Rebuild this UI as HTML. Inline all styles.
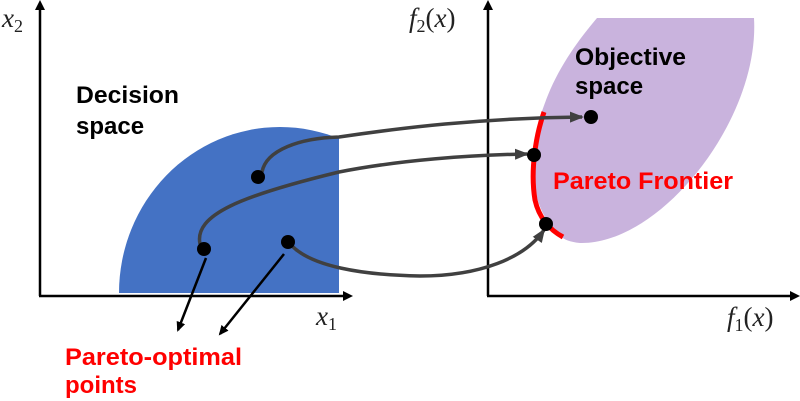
<!DOCTYPE html>
<html>
<head>
<meta charset="utf-8">
<style>
  html, body { margin:0; padding:0; background:#fff; width:800px; height:401px; overflow:hidden; }
  svg { display:block; overflow:hidden; }
  .b { font-family:"Liberation Sans", Arial, sans-serif; font-weight:bold; font-size:24px; }
  .m { font-family:"Liberation Serif", "DejaVu Serif", serif; font-style:italic; font-size:27px; fill:#222; }
  .s { font-family:"Liberation Serif", "DejaVu Serif", serif; font-style:normal; font-size:18px; fill:#222; }
  .p { font-family:"Liberation Serif", "DejaVu Serif", serif; font-style:normal; font-size:27px; fill:#222; }
</style>
</head>
<body>
<svg width="800" height="401" viewBox="0 0 800 401" xmlns="http://www.w3.org/2000/svg">
  <defs>
    <marker id="ak" markerWidth="10" markerHeight="10" refX="8" refY="5" orient="auto" markerUnits="userSpaceOnUse">
      <path d="M0,0.5 L10,5 L0,9.5 Z" fill="#000"/>
    </marker>
    <marker id="ag" markerWidth="14" markerHeight="12" refX="12" refY="6" orient="auto" markerUnits="userSpaceOnUse">
      <path d="M0,0.5 L14,6 L0,11.5 Z" fill="#404040"/>
    </marker>
    <clipPath id="bc"><rect x="0" y="0" width="339" height="293"/></clipPath>
  </defs>

  <!-- Blue decision region -->
  <ellipse cx="280" cy="293" rx="161" ry="166" fill="#4472C4" clip-path="url(#bc)"/>

  <!-- Purple objective region -->
  <path d="M597,18 L754,18 C760,120 660,245 580,243 C570,242 565,240 560,236 C545,222 533,200 532,165 C532,140 540,115 548,95 C560,65 580,38 597,18 Z" fill="#C9B3DD"/>

  <!-- Axes left -->
  <line x1="40" y1="296" x2="40" y2="9" stroke="#000" stroke-width="2.5"/>
  <path d="M40,0 L35,10 L45,10 Z" fill="#000"/>
  <line x1="39" y1="296" x2="344" y2="296" stroke="#000" stroke-width="2.5"/>
  <path d="M353,296 L343,291 L343,301 Z" fill="#000"/>

  <!-- Axes right -->
  <line x1="488" y1="296" x2="488" y2="9" stroke="#000" stroke-width="2.5"/>
  <path d="M488,0 L483,10 L493,10 Z" fill="#000"/>
  <line x1="487" y1="296" x2="791" y2="296" stroke="#000" stroke-width="2.5"/>
  <path d="M800,296 L790,291 L790,301 Z" fill="#000"/>

  <!-- Red Pareto frontier -->
  <path d="M544,112 C536,135 530,170 535,200 C539,218 550,230 563,237" fill="none" stroke="#FF0000" stroke-width="5"/>

  <!-- Gray connectors -->
  <path d="M262,172 C266,150 300,138 339,137 C400,128 480,118 582,117" fill="none" stroke="#404040" stroke-width="3.5" marker-end="url(#ag)"/>
  <path d="M200,244 C194,215 240,196 339,172 C400,160 470,155 527,154" fill="none" stroke="#404040" stroke-width="3.5" marker-end="url(#ag)"/>
  <path d="M292,246 C312,266 360,275 420,276 C480,276 525,258 544,230" fill="none" stroke="#404040" stroke-width="3.5" marker-end="url(#ag)"/>

  <!-- Black arrows to label -->
  <line x1="206" y1="258" x2="178" y2="330" stroke="#000" stroke-width="2.5" marker-end="url(#ak)"/>
  <line x1="284" y1="254" x2="220" y2="334" stroke="#000" stroke-width="2.5" marker-end="url(#ak)"/>

  <!-- Dots -->
  <circle cx="258" cy="177" r="7" fill="#000"/>
  <circle cx="204" cy="249" r="7" fill="#000"/>
  <circle cx="288" cy="242" r="7" fill="#000"/>
  <circle cx="591" cy="117" r="7" fill="#000"/>
  <circle cx="534" cy="155" r="7" fill="#000"/>
  <circle cx="546" cy="224" r="7" fill="#000"/>

  <!-- Labels -->
  <text class="b" x="76" y="103" fill="#000" textLength="103" lengthAdjust="spacingAndGlyphs">Decision</text>
  <text class="b" x="76" y="134" fill="#000">space</text>
  <text class="b" x="575" y="65" fill="#000" textLength="111" lengthAdjust="spacingAndGlyphs">Objective</text>
  <text class="b" x="575" y="94" fill="#000">space</text>
  <text class="b" x="553" y="189" fill="#FF0000" textLength="180" lengthAdjust="spacingAndGlyphs">Pareto Frontier</text>
  <text class="b" x="65" y="365" fill="#FF0000" textLength="177" lengthAdjust="spacingAndGlyphs">Pareto-optimal</text>
  <text class="b" x="65" y="393" fill="#FF0000">points</text>

  <!-- Math labels -->
  <text x="2" y="27"><tspan class="m">x</tspan><tspan class="s" dy="5">2</tspan></text>
  <text x="316" y="325"><tspan class="m">x</tspan><tspan class="s" dy="5">1</tspan></text>
  <text x="409" y="27"><tspan class="m">f</tspan><tspan class="s" dy="5">2</tspan><tspan class="p" dy="-5">(</tspan><tspan class="m">x</tspan><tspan class="p">)</tspan></text>
  <text x="727" y="326"><tspan class="m">f</tspan><tspan class="s" dy="5">1</tspan><tspan class="p" dy="-5">(</tspan><tspan class="m">x</tspan><tspan class="p">)</tspan></text>
</svg>
</body>
</html>
